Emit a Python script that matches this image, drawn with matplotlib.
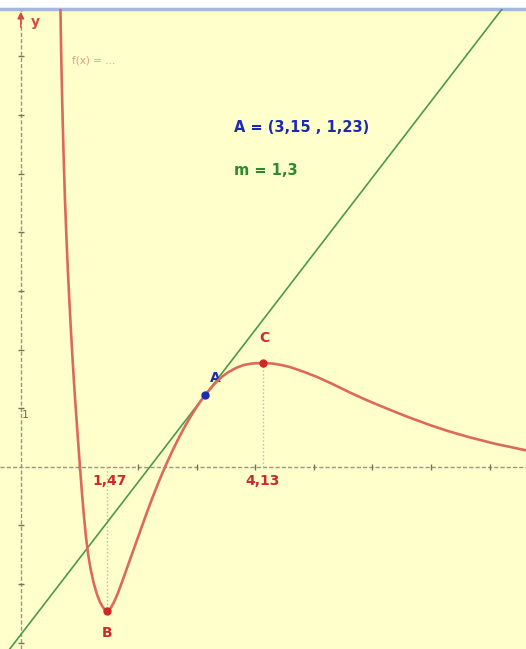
import numpy as np
import matplotlib.pyplot as plt

# points along the graph of f
curve_x = [0.671, 0.688, 0.706, 0.729, 0.754, 0.779, 0.803, 0.829, 0.855, 0.880,
           0.905, 0.929, 0.952, 0.980, 1.009, 1.044, 1.079, 1.112, 1.150, 1.192,
           1.240, 1.294, 1.346, 1.396, 1.437, 1.470, 1.500, 1.540, 1.590, 1.660,
           1.749, 1.860, 1.978, 2.060, 2.137, 2.240, 2.346, 2.420, 2.500, 2.600,
           2.700, 2.800, 2.900, 3.000, 3.075, 3.150, 3.300, 3.428, 3.550, 3.684,
           3.800, 3.950, 4.130, 4.300, 4.450, 4.594, 4.800, 5.049, 5.300, 5.618,
           5.870, 6.130, 6.550, 6.983, 7.300, 7.666, 8.100, 8.621, 8.800]
curve_y = [8.13, 7.10, 6.25, 5.35, 4.55, 3.90, 3.35, 2.82, 2.33, 1.89,
           1.48, 1.12, 0.79, 0.40, 0.00, -0.45, -0.86, -1.20, -1.50, -1.75,
           -1.97, -2.16, -2.30, -2.39, -2.445, -2.47, -2.455, -2.40, -2.31, -2.15,
           -1.906, -1.595, -1.265, -1.035, -0.821, -0.545, -0.277, -0.100, 0.083, 0.299,
           0.50, 0.687, 0.860, 1.019, 1.128, 1.23, 1.408, 1.532, 1.62, 1.69,
           1.735, 1.762, 1.77, 1.76, 1.735, 1.70, 1.63, 1.534, 1.42, 1.265,
           1.15, 1.04, 0.87, 0.71, 0.605, 0.50, 0.39, 0.28, 0.25]

# minimum B, maximum C, tangent point A and slope m
b_x, b_y = 1.47, -2.47
c_x, c_y = 4.13, 1.77
a_x, a_y = 3.15, 1.23
m = 1.3

x_ticks = [1, 2, 3, 4, 5, 6, 7, 8]
y_ticks = [-3, -2, -1, 1, 2, 3, 4, 5, 6, 7]


def fmt(v):
    return f"{v:g}".replace('.', ',')


fig = plt.figure(figsize=(5.26, 6.49), dpi=100)
ax = fig.add_axes([0, 0, 1, 640 / 649])
ax.set_xlim(-0.355, 8.62)
ax.set_ylim(-3.11, 7.81)
ax.set_facecolor('#ffffcc')
for s in ['left', 'right', 'bottom']:
    ax.spines[s].set_visible(False)
ax.spines['top'].set_color('#a3b8dc')
ax.spines['top'].set_linewidth(2.5)
ax.set_xticks([])
ax.set_yticks([])

# coordinate axes
axis_col = '#9a948a'
ax.axhline(0, color=axis_col, lw=1, ls=(0, (3, 1.5)), zorder=1)
ax.axvline(0, color=axis_col, lw=1, ls=(0, (3, 1.5)), zorder=1)
ax.plot(x_ticks, [0] * len(x_ticks), ls='none', marker='|', ms=4, color='#7a7060', zorder=1)
ax.plot([0] * len(y_ticks), y_ticks, ls='none', marker='_', ms=4, color='#7a7060', zorder=1)
ax.annotate('', xy=(0, 7.81), xytext=(0, 7.45),
            arrowprops=dict(arrowstyle='-|>', color='#d04a40', lw=1, mutation_scale=10))
ax.text(0.25, 7.58, 'y', color='#d04a40', fontsize=10, fontweight='bold', ha='center', va='center')
ax.text(0.08, 0.88, '1', color='#b05040', fontsize=8, ha='center', va='center')

# dotted guides to the extrema
ax.plot([b_x, b_x], [0, b_y], color='#b8b8b0', lw=1, ls=':', zorder=2)
ax.plot([c_x, c_x], [0, c_y], color='#b8b8b0', lw=1, ls=':', zorder=2)

# tangent at A
ax.axline((a_x, a_y), slope=m, color='#4a9a48', lw=1.2, zorder=3)

# graph of f
ax.plot(curve_x, curve_y, color='#dc6a5a', lw=1.9, solid_joinstyle='round',
        solid_capstyle='round', zorder=4)
ax.text(0.88, 6.93, 'f(x) = ...', color='#e49a90', fontsize=7.5, ha='left', va='center')

ax.plot([b_x, c_x], [b_y, c_y], 'o', color='#d02828', ms=5, zorder=5)
ax.plot([a_x], [a_y], 'o', color='#1c2ab0', ms=5, zorder=5)

red = '#cc2a2a'
ax.text(b_x + 0.05, -0.25, fmt(b_x), color=red, fontsize=10, fontweight='bold', ha='center', va='center')
ax.text(c_x, -0.25, fmt(c_x), color=red, fontsize=10, fontweight='bold', ha='center', va='center')
ax.text(b_x, -2.83, 'B', color=red, fontsize=10, fontweight='bold', ha='center', va='center')
ax.text(c_x + 0.03, 2.2, 'C', color=red, fontsize=10, fontweight='bold', ha='center', va='center')
ax.text(a_x + 0.17, 1.52, 'A', color='#1c2ab0', fontsize=10, fontweight='bold', ha='center', va='center')

ax.text(3.63, 5.78, f'A = ({fmt(a_x)} , {fmt(a_y)})', color='#1c2ab0', fontsize=10.5,
        fontweight='bold', ha='left', va='center')
ax.text(3.63, 5.06, f'm = {fmt(m)}', color='#2e8a2e', fontsize=10.5,
        fontweight='bold', ha='left', va='center')

fig.savefig('out.png', dpi=100, facecolor='white')
